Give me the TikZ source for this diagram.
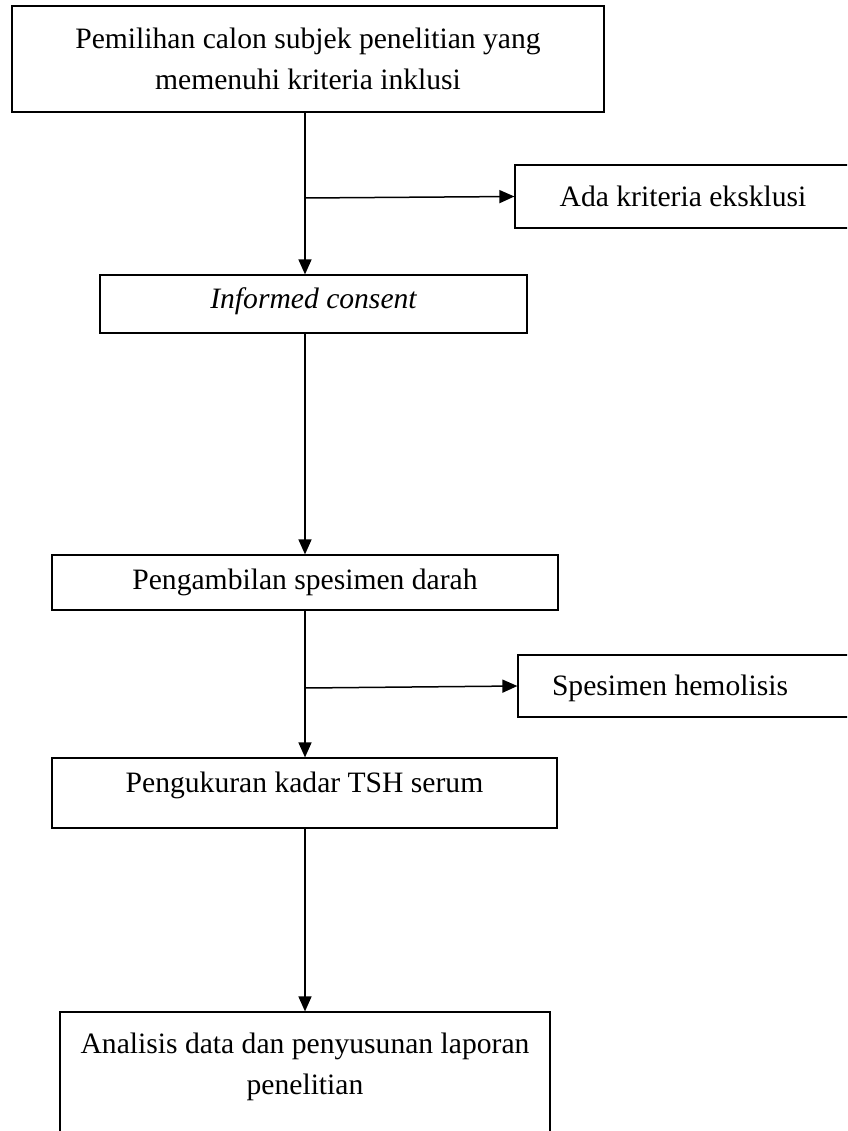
\documentclass[tikz,border=0pt]{standalone}
\usepackage{fontspec}
\setmainfont{Liberation Serif}
\usepackage{tikz}
\usetikzlibrary{arrows.meta}

\begin{document}
\begin{tikzpicture}[x=1pt, y=-1pt, >={Triangle[length=15pt, width=13pt]},
  every node/.style={font=\fontsize{29.6}{41}\selectfont},
  box/.style={draw, line width=1.2pt, rectangle, align=center, inner sep=0pt},
  flow/.style={line width=1.5pt, ->}]
  \useasboundingbox (0,0) rectangle (847,1131);
  \clip (0,0) rectangle (847,1131);

  % Nodes
  \node[box, minimum width=592pt, minimum height=106pt] (pemilihan) at (308,59)
    {Pemilihan calon subjek penelitian yang\\ memenuhi kriteria inklusi};
  \node[box, minimum width=336pt, minimum height=63pt] (ada) at (683,196.5) {Ada kriteria eksklusi};
  \node[box, minimum width=427pt, minimum height=58pt, text depth=12pt] (consent) at (313.5,304) {\itshape Informed consent};
  \node[box, minimum width=506pt, minimum height=55pt] (darah) at (305,582.5) {Pengambilan spesimen darah};
  \node[box, minimum width=352pt, minimum height=62pt] (hemo) at (694,686) {};
  \node (hemolabel) at (670,688) {Spesimen hemolisis};
  \node[box, minimum width=505pt, minimum height=70pt, text depth=22pt] (tsh) at (304.5,793) {Pengukuran kadar TSH serum};
  \node[box, minimum width=490pt, minimum height=124pt, text depth=20pt] (analisis) at (305,1074)
    {Analisis data dan penyusunan laporan\\ penelitian};

  % Branch points
  \coordinate (split1) at (305,198);
  \coordinate (split2) at (305,688);

  % Arrows
  \draw[flow] (pemilihan.south -| split1) -- (split1 |- consent.north);
  \draw[flow] (split1) -- (ada.west);
  \draw[flow] (consent.south -| darah.north) -- (darah.north);
  \draw[flow] (darah.south -| split2) -- (split2 |- tsh.north);
  \draw[flow] (split2) -- (hemo.west);
  \draw[flow] (tsh.south -| analisis.north) -- (analisis.north);
\end{tikzpicture}
\end{document}
